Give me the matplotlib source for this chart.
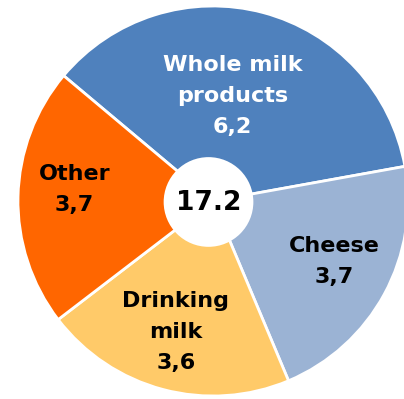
import matplotlib.pyplot as plt
from matplotlib.patches import Circle

# Milk use, clockwise from the top-left
labels = ['Whole milk\nproducts', 'Cheese', 'Drinking\nmilk', 'Other']
values = [6.2, 3.7, 3.6, 3.7]
value_text = ['6,2', '3,7', '3,6', '3,7']
total_text = '17.2'

colors = ['#4f81bd', '#9bb3d4', '#ffca69', '#ff6600']
text_colors = ['white', 'black', 'black', 'black']
# label centres in axes units (pie radius = 1)
label_pos = [(0.10, 0.54), (0.62, -0.31), (-0.19, -0.67), (-0.71, 0.06)]

fig = plt.figure(figsize=(4.04, 3.99), dpi=100)
ax = fig.add_axes([0, 0, 1, 1])

ax.pie(values, colors=colors, startangle=140, counterclock=False,
       radius=1, wedgeprops=dict(edgecolor='white', linewidth=2))

# white hole in the middle with the total
ax.add_patch(Circle((-0.023, -0.005), 0.23, facecolor='white', edgecolor='none', zorder=5))
ax.text(-0.023, -0.01, total_text, ha='center', va='center', fontsize=19,
        fontweight='bold', color='black', zorder=6)

for lab, val, (x, y), tc in zip(labels, value_text, label_pos, text_colors):
    ax.text(x, y, lab + '\n' + val, ha='center', va='center', fontsize=16,
            fontweight='bold', color=tc, linespacing=1.68)

ax.set_xlim(-1.0923, 0.9795)
ax.set_ylim(-1.0154, 1.0308)
ax.set_aspect('auto')
ax.axis('off')

plt.savefig('out.png', dpi=100)
